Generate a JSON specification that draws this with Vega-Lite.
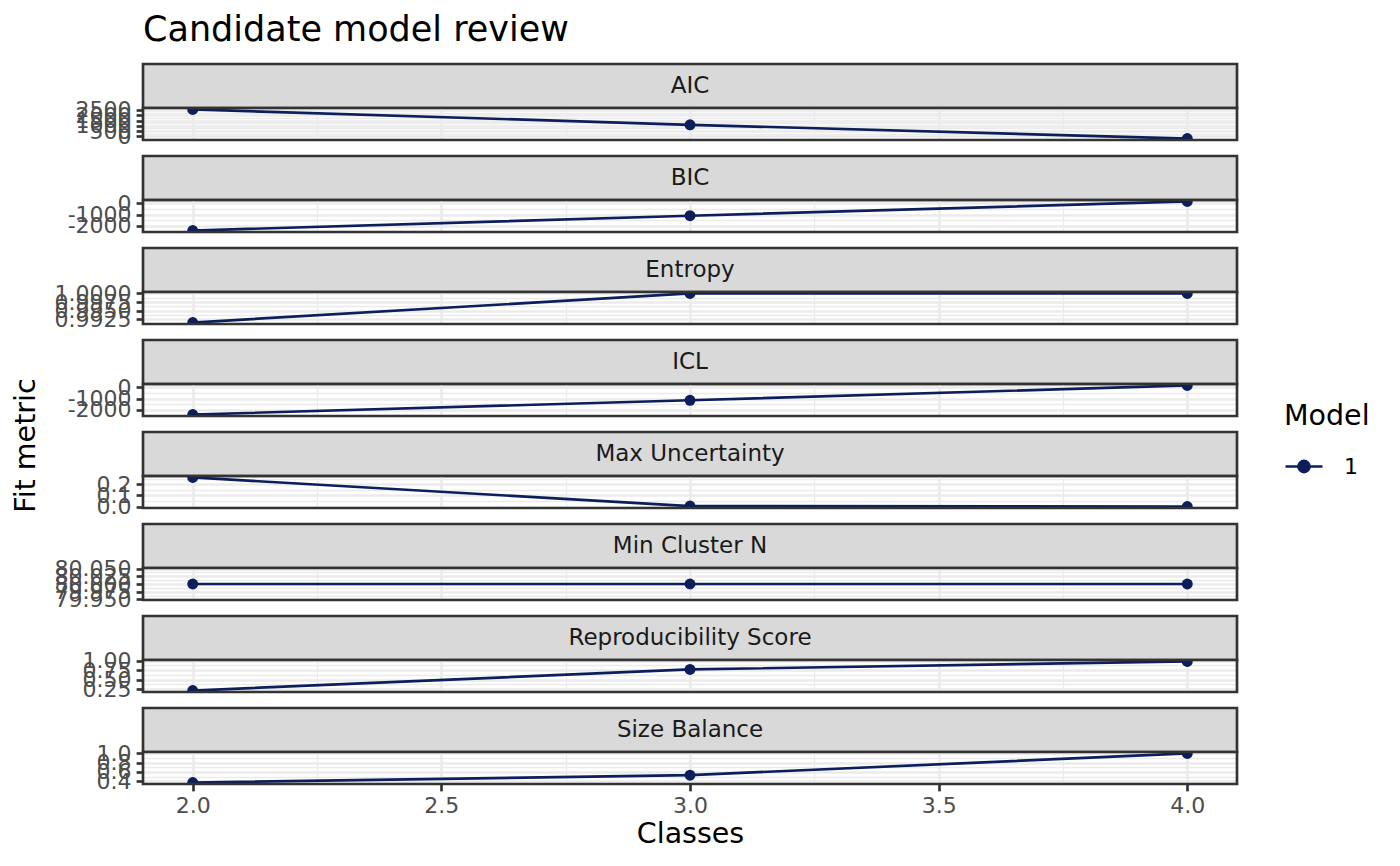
{
  "$schema": "https://vega.github.io/schema/vega-lite/v6.json",
  "padding": {"left": 11, "top": 12, "right": 10, "bottom": 5},
  "title": {"text": "Candidate model review", "anchor": "start", "frame": "group", "fontSize": 35, "font": "DejaVu Sans", "fontWeight": "normal", "color": "#000000", "offset": 15},
  "datasets": {
    "panels": [
      {"metric": "AIC"}, {"metric": "BIC"}, {"metric": "Entropy"}, {"metric": "ICL"},
      {"metric": "Max Uncertainty"}, {"metric": "Min Cluster N"}, {"metric": "Reproducibility Score"}, {"metric": "Size Balance"}
    ],
    "frame": [{"panel": "border"}],
    "fit": [
      {"metric": "AIC", "classes": 2, "value": 2550, "model": "1"},
      {"metric": "AIC", "classes": 3, "value": 1100, "model": "1"},
      {"metric": "AIC", "classes": 4, "value": -200, "model": "1"},
      {"metric": "BIC", "classes": 2, "value": -2400, "model": "1"},
      {"metric": "BIC", "classes": 3, "value": -1100, "model": "1"},
      {"metric": "BIC", "classes": 4, "value": 150, "model": "1"},
      {"metric": "Entropy", "classes": 2, "value": 0.9915, "model": "1"},
      {"metric": "Entropy", "classes": 3, "value": 1.0, "model": "1"},
      {"metric": "Entropy", "classes": 4, "value": 1.0, "model": "1"},
      {"metric": "ICL", "classes": 2, "value": -2400, "model": "1"},
      {"metric": "ICL", "classes": 3, "value": -1150, "model": "1"},
      {"metric": "ICL", "classes": 4, "value": 150, "model": "1"},
      {"metric": "Max Uncertainty", "classes": 2, "value": 0.26, "model": "1"},
      {"metric": "Max Uncertainty", "classes": 3, "value": 0.004, "model": "1"},
      {"metric": "Max Uncertainty", "classes": 4, "value": 0.0, "model": "1"},
      {"metric": "Min Cluster N", "classes": 2, "value": 80, "model": "1"},
      {"metric": "Min Cluster N", "classes": 3, "value": 80, "model": "1"},
      {"metric": "Min Cluster N", "classes": 4, "value": 80, "model": "1"},
      {"metric": "Reproducibility Score", "classes": 2, "value": 0.215, "model": "1"},
      {"metric": "Reproducibility Score", "classes": 3, "value": 0.77, "model": "1"},
      {"metric": "Reproducibility Score", "classes": 4, "value": 0.98, "model": "1"},
      {"metric": "Size Balance", "classes": 2, "value": 0.37, "model": "1"},
      {"metric": "Size Balance", "classes": 3, "value": 0.53, "model": "1"},
      {"metric": "Size Balance", "classes": 4, "value": 1.0, "model": "1"}
    ]
  },
  "spacing": 0,
  "bounds": "flush",
  "vconcat": [
    {"width": 1094, "height": 44, "data": {"name": "panels"}, "transform": [{"filter": "datum.metric === 'AIC'"}],
     "mark": {"type": "text", "fontSize": 23, "font": "DejaVu Sans", "color": "#1A1A1A"},
     "encoding": {"text": {"field": "metric", "type": "nominal"}}, "view": {"fill": "#D9D9D9", "stroke": "#333333", "strokeWidth": 2.67}},
    {"width": 1094, "height": 32, "view": {"stroke": null},
     "resolve": {"scale": {"x": "independent", "y": "independent"}},
     "layer": [
       {"data": {"name": "fit"}, "transform": [{"filter": "datum.metric === 'AIC'"}],
        "encoding": {
          "x": {"field": "classes", "type": "quantitative", "scale": {"domain": [1.9, 4.1], "nice": false, "zero": false},
                "axis": {"values": [2, 2.25, 2.5, 2.75, 3, 3.25, 3.5, 3.75, 4], "labels": false, "ticks": false, "title": null,
                         "gridWidth": {"condition": {"test": "indexof([2,2.5,3,3.5,4], datum.value) >= 0", "value": 2.67}, "value": 1.33}}},
          "y": {"field": "value", "type": "quantitative", "scale": {"domain": [-337.5, 2687.5], "nice": false, "zero": false},
                "axis": {"title": null, "values": [-250, 0, 250, 500, 750, 1000, 1250, 1500, 1750, 2000, 2250, 2500],
                         "labelExpr": "indexof([0,500,1000,1500,2000,2500], datum.value) >= 0 ? '' + datum.value : ''",
                         "tickOpacity": {"condition": {"test": "indexof([0,500,1000,1500,2000,2500], datum.value) >= 0", "value": 1}, "value": 0},
                         "gridWidth": {"condition": {"test": "indexof([0,500,1000,1500,2000,2500], datum.value) >= 0", "value": 2.67}, "value": 1.33}}}
        },
        "layer": [
          {"mark": {"type": "line", "strokeWidth": 2.67, "clip": true},
           "encoding": {"color": {"field": "model", "type": "nominal", "scale": {"range": ["#0C1E5B"]},
             "legend": {"title": "Model", "orient": "none", "legendX": 1141, "legendY": 338,
               "encode": {"symbols": {"update": {"fill": {"value": "#0C1E5B"}, "stroke": {"value": "#0C1E5B"}, "strokeWidth": {"value": 2.67}, "opacity": {"value": 1}}}}}}}},
          {"mark": {"type": "point", "filled": true, "size": 120, "opacity": 1, "clip": true, "color": "#0C1E5B"}}
        ]},
       {"data": {"name": "frame"}, "mark": {"type": "rect", "fillOpacity": 0, "stroke": "#333333", "strokeWidth": 2.67}, "encoding": {}}
     ]},
    {"width": 1094, "height": 16, "data": {"values": []}, "mark": {"type": "point", "opacity": 0}, "view": {"stroke": null}},

    {"width": 1094, "height": 44, "data": {"name": "panels"}, "transform": [{"filter": "datum.metric === 'BIC'"}],
     "mark": {"type": "text", "fontSize": 23, "font": "DejaVu Sans", "color": "#1A1A1A"},
     "encoding": {"text": {"field": "metric", "type": "nominal"}}, "view": {"fill": "#D9D9D9", "stroke": "#333333", "strokeWidth": 2.67}},
    {"width": 1094, "height": 32, "view": {"stroke": null},
     "resolve": {"scale": {"x": "independent", "y": "independent"}},
     "layer": [
       {"data": {"name": "fit"}, "transform": [{"filter": "datum.metric === 'BIC'"}],
        "encoding": {
          "x": {"field": "classes", "type": "quantitative", "scale": {"domain": [1.9, 4.1], "nice": false, "zero": false},
                "axis": {"values": [2, 2.25, 2.5, 2.75, 3, 3.25, 3.5, 3.75, 4], "labels": false, "ticks": false, "title": null,
                         "gridWidth": {"condition": {"test": "indexof([2,2.5,3,3.5,4], datum.value) >= 0", "value": 2.67}, "value": 1.33}}},
          "y": {"field": "value", "type": "quantitative", "scale": {"domain": [-2527.5, 277.5], "nice": false, "zero": false},
                "axis": {"title": null, "values": [-2500, -2000, -1500, -1000, -500, 0],
                         "labelExpr": "indexof([-2000,-1000,0], datum.value) >= 0 ? '' + datum.value : ''",
                         "tickOpacity": {"condition": {"test": "indexof([-2000,-1000,0], datum.value) >= 0", "value": 1}, "value": 0},
                         "gridWidth": {"condition": {"test": "indexof([-2000,-1000,0], datum.value) >= 0", "value": 2.67}, "value": 1.33}}}
        },
        "layer": [
          {"mark": {"type": "line", "strokeWidth": 2.67, "clip": true},
           "encoding": {"color": {"field": "model", "type": "nominal", "scale": {"range": ["#0C1E5B"]},
             "legend": {"title": "Model", "orient": "none", "legendX": 1141, "legendY": 338,
               "encode": {"symbols": {"update": {"fill": {"value": "#0C1E5B"}, "stroke": {"value": "#0C1E5B"}, "strokeWidth": {"value": 2.67}, "opacity": {"value": 1}}}}}}}},
          {"mark": {"type": "point", "filled": true, "size": 120, "opacity": 1, "clip": true, "color": "#0C1E5B"}}
        ]},
       {"data": {"name": "frame"}, "mark": {"type": "rect", "fillOpacity": 0, "stroke": "#333333", "strokeWidth": 2.67}, "encoding": {}}
     ]},
    {"width": 1094, "height": 16, "data": {"values": []}, "mark": {"type": "point", "opacity": 0}, "view": {"stroke": null}},

    {"width": 1094, "height": 44, "data": {"name": "panels"}, "transform": [{"filter": "datum.metric === 'Entropy'"}],
     "mark": {"type": "text", "fontSize": 23, "font": "DejaVu Sans", "color": "#1A1A1A"},
     "encoding": {"text": {"field": "metric", "type": "nominal"}}, "view": {"fill": "#D9D9D9", "stroke": "#333333", "strokeWidth": 2.67}},
    {"width": 1094, "height": 32, "view": {"stroke": null},
     "resolve": {"scale": {"x": "independent", "y": "independent"}},
     "layer": [
       {"data": {"name": "fit"}, "transform": [{"filter": "datum.metric === 'Entropy'"}],
        "encoding": {
          "x": {"field": "classes", "type": "quantitative", "scale": {"domain": [1.9, 4.1], "nice": false, "zero": false},
                "axis": {"values": [2, 2.25, 2.5, 2.75, 3, 3.25, 3.5, 3.75, 4], "labels": false, "ticks": false, "title": null,
                         "gridWidth": {"condition": {"test": "indexof([2,2.5,3,3.5,4], datum.value) >= 0", "value": 2.67}, "value": 1.33}}},
          "y": {"field": "value", "type": "quantitative", "scale": {"domain": [0.991075, 1.000425], "nice": false, "zero": false},
                "axis": {"title": null, "values": [0.99125, 0.9925, 0.99375, 0.995, 0.99625, 0.9975, 0.99875, 1.0],
                         "labelExpr": "indexof([0.9925,0.995,0.9975,1.0], datum.value) >= 0 ? format(datum.value, '.4f') : ''",
                         "tickOpacity": {"condition": {"test": "indexof([0.9925,0.995,0.9975,1.0], datum.value) >= 0", "value": 1}, "value": 0},
                         "gridWidth": {"condition": {"test": "indexof([0.9925,0.995,0.9975,1.0], datum.value) >= 0", "value": 2.67}, "value": 1.33}}}
        },
        "layer": [
          {"mark": {"type": "line", "strokeWidth": 2.67, "clip": true},
           "encoding": {"color": {"field": "model", "type": "nominal", "scale": {"range": ["#0C1E5B"]},
             "legend": {"title": "Model", "orient": "none", "legendX": 1141, "legendY": 338,
               "encode": {"symbols": {"update": {"fill": {"value": "#0C1E5B"}, "stroke": {"value": "#0C1E5B"}, "strokeWidth": {"value": 2.67}, "opacity": {"value": 1}}}}}}}},
          {"mark": {"type": "point", "filled": true, "size": 120, "opacity": 1, "clip": true, "color": "#0C1E5B"}}
        ]},
       {"data": {"name": "frame"}, "mark": {"type": "rect", "fillOpacity": 0, "stroke": "#333333", "strokeWidth": 2.67}, "encoding": {}}
     ]},
    {"width": 1094, "height": 16, "data": {"values": []}, "mark": {"type": "point", "opacity": 0}, "view": {"stroke": null}},

    {"width": 1094, "height": 44, "data": {"name": "panels"}, "transform": [{"filter": "datum.metric === 'ICL'"}],
     "mark": {"type": "text", "fontSize": 23, "font": "DejaVu Sans", "color": "#1A1A1A"},
     "encoding": {"text": {"field": "metric", "type": "nominal"}}, "view": {"fill": "#D9D9D9", "stroke": "#333333", "strokeWidth": 2.67}},
    {"width": 1094, "height": 32, "view": {"stroke": null},
     "resolve": {"scale": {"x": "independent", "y": "independent"}},
     "layer": [
       {"data": {"name": "fit"}, "transform": [{"filter": "datum.metric === 'ICL'"}],
        "encoding": {
          "x": {"field": "classes", "type": "quantitative", "scale": {"domain": [1.9, 4.1], "nice": false, "zero": false},
                "axis": {"values": [2, 2.25, 2.5, 2.75, 3, 3.25, 3.5, 3.75, 4], "labels": false, "ticks": false, "title": null,
                         "gridWidth": {"condition": {"test": "indexof([2,2.5,3,3.5,4], datum.value) >= 0", "value": 2.67}, "value": 1.33}}},
          "y": {"field": "value", "type": "quantitative", "scale": {"domain": [-2527.5, 277.5], "nice": false, "zero": false},
                "axis": {"title": null, "values": [-2500, -2000, -1500, -1000, -500, 0],
                         "labelExpr": "indexof([-2000,-1000,0], datum.value) >= 0 ? '' + datum.value : ''",
                         "tickOpacity": {"condition": {"test": "indexof([-2000,-1000,0], datum.value) >= 0", "value": 1}, "value": 0},
                         "gridWidth": {"condition": {"test": "indexof([-2000,-1000,0], datum.value) >= 0", "value": 2.67}, "value": 1.33}}}
        },
        "layer": [
          {"mark": {"type": "line", "strokeWidth": 2.67, "clip": true},
           "encoding": {"color": {"field": "model", "type": "nominal", "scale": {"range": ["#0C1E5B"]},
             "legend": {"title": "Model", "orient": "none", "legendX": 1141, "legendY": 338,
               "encode": {"symbols": {"update": {"fill": {"value": "#0C1E5B"}, "stroke": {"value": "#0C1E5B"}, "strokeWidth": {"value": 2.67}, "opacity": {"value": 1}}}}}}}},
          {"mark": {"type": "point", "filled": true, "size": 120, "opacity": 1, "clip": true, "color": "#0C1E5B"}}
        ]},
       {"data": {"name": "frame"}, "mark": {"type": "rect", "fillOpacity": 0, "stroke": "#333333", "strokeWidth": 2.67}, "encoding": {}}
     ]},
    {"width": 1094, "height": 16, "data": {"values": []}, "mark": {"type": "point", "opacity": 0}, "view": {"stroke": null}},

    {"width": 1094, "height": 44, "data": {"name": "panels"}, "transform": [{"filter": "datum.metric === 'Max Uncertainty'"}],
     "mark": {"type": "text", "fontSize": 23, "font": "DejaVu Sans", "color": "#1A1A1A"},
     "encoding": {"text": {"field": "metric", "type": "nominal"}}, "view": {"fill": "#D9D9D9", "stroke": "#333333", "strokeWidth": 2.67}},
    {"width": 1094, "height": 32, "view": {"stroke": null},
     "resolve": {"scale": {"x": "independent", "y": "independent"}},
     "layer": [
       {"data": {"name": "fit"}, "transform": [{"filter": "datum.metric === 'Max Uncertainty'"}],
        "encoding": {
          "x": {"field": "classes", "type": "quantitative", "scale": {"domain": [1.9, 4.1], "nice": false, "zero": false},
                "axis": {"values": [2, 2.25, 2.5, 2.75, 3, 3.25, 3.5, 3.75, 4], "labels": false, "ticks": false, "title": null,
                         "gridWidth": {"condition": {"test": "indexof([2,2.5,3,3.5,4], datum.value) >= 0", "value": 2.67}, "value": 1.33}}},
          "y": {"field": "value", "type": "quantitative", "scale": {"domain": [-0.013, 0.273], "nice": false, "zero": false},
                "axis": {"title": "Fit metric", "titleX": -109, "titleY": -31, "titleAngle": 270, "titleBaseline": "alphabetic", "titleAlign": "center",
                         "values": [0, 0.05, 0.1, 0.15, 0.2, 0.25],
                         "labelExpr": "indexof([0,0.1,0.2], datum.value) >= 0 ? format(datum.value, '.1f') : ''",
                         "tickOpacity": {"condition": {"test": "indexof([0,0.1,0.2], datum.value) >= 0", "value": 1}, "value": 0},
                         "gridWidth": {"condition": {"test": "indexof([0,0.1,0.2], datum.value) >= 0", "value": 2.67}, "value": 1.33}}}
        },
        "layer": [
          {"mark": {"type": "line", "strokeWidth": 2.67, "clip": true},
           "encoding": {"color": {"field": "model", "type": "nominal", "scale": {"range": ["#0C1E5B"]},
             "legend": {"title": "Model", "orient": "none", "legendX": 1141, "legendY": 338,
               "encode": {"symbols": {"update": {"fill": {"value": "#0C1E5B"}, "stroke": {"value": "#0C1E5B"}, "strokeWidth": {"value": 2.67}, "opacity": {"value": 1}}}}}}}},
          {"mark": {"type": "point", "filled": true, "size": 120, "opacity": 1, "clip": true, "color": "#0C1E5B"}}
        ]},
       {"data": {"name": "frame"}, "mark": {"type": "rect", "fillOpacity": 0, "stroke": "#333333", "strokeWidth": 2.67}, "encoding": {}}
     ]},
    {"width": 1094, "height": 16, "data": {"values": []}, "mark": {"type": "point", "opacity": 0}, "view": {"stroke": null}},

    {"width": 1094, "height": 44, "data": {"name": "panels"}, "transform": [{"filter": "datum.metric === 'Min Cluster N'"}],
     "mark": {"type": "text", "fontSize": 23, "font": "DejaVu Sans", "color": "#1A1A1A"},
     "encoding": {"text": {"field": "metric", "type": "nominal"}}, "view": {"fill": "#D9D9D9", "stroke": "#333333", "strokeWidth": 2.67}},
    {"width": 1094, "height": 32, "view": {"stroke": null},
     "resolve": {"scale": {"x": "independent", "y": "independent"}},
     "layer": [
       {"data": {"name": "fit"}, "transform": [{"filter": "datum.metric === 'Min Cluster N'"}],
        "encoding": {
          "x": {"field": "classes", "type": "quantitative", "scale": {"domain": [1.9, 4.1], "nice": false, "zero": false},
                "axis": {"values": [2, 2.25, 2.5, 2.75, 3, 3.25, 3.5, 3.75, 4], "labels": false, "ticks": false, "title": null,
                         "gridWidth": {"condition": {"test": "indexof([2,2.5,3,3.5,4], datum.value) >= 0", "value": 2.67}, "value": 1.33}}},
          "y": {"field": "value", "type": "quantitative", "scale": {"domain": [79.948, 80.052], "nice": false, "zero": false},
                "axis": {"title": null, "values": [79.95, 79.9625, 79.975, 79.9875, 80, 80.0125, 80.025, 80.0375, 80.05],
                         "labelExpr": "indexof([79.95,79.975,80,80.025,80.05], datum.value) >= 0 ? format(datum.value, '.3f') : ''",
                         "tickOpacity": {"condition": {"test": "indexof([79.95,79.975,80,80.025,80.05], datum.value) >= 0", "value": 1}, "value": 0},
                         "gridWidth": {"condition": {"test": "indexof([79.95,79.975,80,80.025,80.05], datum.value) >= 0", "value": 2.67}, "value": 1.33}}}
        },
        "layer": [
          {"mark": {"type": "line", "strokeWidth": 2.67, "clip": true},
           "encoding": {"color": {"field": "model", "type": "nominal", "scale": {"range": ["#0C1E5B"]},
             "legend": {"title": "Model", "orient": "none", "legendX": 1141, "legendY": 338,
               "encode": {"symbols": {"update": {"fill": {"value": "#0C1E5B"}, "stroke": {"value": "#0C1E5B"}, "strokeWidth": {"value": 2.67}, "opacity": {"value": 1}}}}}}}},
          {"mark": {"type": "point", "filled": true, "size": 120, "opacity": 1, "clip": true, "color": "#0C1E5B"}}
        ]},
       {"data": {"name": "frame"}, "mark": {"type": "rect", "fillOpacity": 0, "stroke": "#333333", "strokeWidth": 2.67}, "encoding": {}}
     ]},
    {"width": 1094, "height": 16, "data": {"values": []}, "mark": {"type": "point", "opacity": 0}, "view": {"stroke": null}},

    {"width": 1094, "height": 44, "data": {"name": "panels"}, "transform": [{"filter": "datum.metric === 'Reproducibility Score'"}],
     "mark": {"type": "text", "fontSize": 23, "font": "DejaVu Sans", "color": "#1A1A1A"},
     "encoding": {"text": {"field": "metric", "type": "nominal"}}, "view": {"fill": "#D9D9D9", "stroke": "#333333", "strokeWidth": 2.67}},
    {"width": 1094, "height": 32, "view": {"stroke": null},
     "resolve": {"scale": {"x": "independent", "y": "independent"}},
     "layer": [
       {"data": {"name": "fit"}, "transform": [{"filter": "datum.metric === 'Reproducibility Score'"}],
        "encoding": {
          "x": {"field": "classes", "type": "quantitative", "scale": {"domain": [1.9, 4.1], "nice": false, "zero": false},
                "axis": {"values": [2, 2.25, 2.5, 2.75, 3, 3.25, 3.5, 3.75, 4], "labels": false, "ticks": false, "title": null,
                         "gridWidth": {"condition": {"test": "indexof([2,2.5,3,3.5,4], datum.value) >= 0", "value": 2.67}, "value": 1.33}}},
          "y": {"field": "value", "type": "quantitative", "scale": {"domain": [0.17675, 1.01825], "nice": false, "zero": false},
                "axis": {"title": null, "values": [0.25, 0.375, 0.5, 0.625, 0.75, 0.875, 1.0],
                         "labelExpr": "indexof([0.25,0.5,0.75,1.0], datum.value) >= 0 ? format(datum.value, '.2f') : ''",
                         "tickOpacity": {"condition": {"test": "indexof([0.25,0.5,0.75,1.0], datum.value) >= 0", "value": 1}, "value": 0},
                         "gridWidth": {"condition": {"test": "indexof([0.25,0.5,0.75,1.0], datum.value) >= 0", "value": 2.67}, "value": 1.33}}}
        },
        "layer": [
          {"mark": {"type": "line", "strokeWidth": 2.67, "clip": true},
           "encoding": {"color": {"field": "model", "type": "nominal", "scale": {"range": ["#0C1E5B"]},
             "legend": {"title": "Model", "orient": "none", "legendX": 1141, "legendY": 338,
               "encode": {"symbols": {"update": {"fill": {"value": "#0C1E5B"}, "stroke": {"value": "#0C1E5B"}, "strokeWidth": {"value": 2.67}, "opacity": {"value": 1}}}}}}}},
          {"mark": {"type": "point", "filled": true, "size": 120, "opacity": 1, "clip": true, "color": "#0C1E5B"}}
        ]},
       {"data": {"name": "frame"}, "mark": {"type": "rect", "fillOpacity": 0, "stroke": "#333333", "strokeWidth": 2.67}, "encoding": {}}
     ]},
    {"width": 1094, "height": 16, "data": {"values": []}, "mark": {"type": "point", "opacity": 0}, "view": {"stroke": null}},

    {"width": 1094, "height": 44, "data": {"name": "panels"}, "transform": [{"filter": "datum.metric === 'Size Balance'"}],
     "mark": {"type": "text", "fontSize": 23, "font": "DejaVu Sans", "color": "#1A1A1A"},
     "encoding": {"text": {"field": "metric", "type": "nominal"}}, "view": {"fill": "#D9D9D9", "stroke": "#333333", "strokeWidth": 2.67}},
    {"width": 1094, "height": 32, "view": {"stroke": null},
     "resolve": {"scale": {"x": "independent", "y": "independent"}},
     "layer": [
       {"data": {"name": "fit"}, "transform": [{"filter": "datum.metric === 'Size Balance'"}],
        "encoding": {
          "x": {"field": "classes", "type": "quantitative", "scale": {"domain": [1.9, 4.1], "nice": false, "zero": false},
                "axis": {"values": [2, 2.25, 2.5, 2.75, 3, 3.25, 3.5, 3.75, 4], "title": "Classes",
                         "labelExpr": "indexof([2,2.5,3,3.5,4], datum.value) >= 0 ? format(datum.value, '.1f') : ''",
                         "tickOpacity": {"condition": {"test": "indexof([2,2.5,3,3.5,4], datum.value) >= 0", "value": 1}, "value": 0},
                         "gridWidth": {"condition": {"test": "indexof([2,2.5,3,3.5,4], datum.value) >= 0", "value": 2.67}, "value": 1.33}}},
          "y": {"field": "value", "type": "quantitative", "scale": {"domain": [0.3385, 1.0315], "nice": false, "zero": false},
                "axis": {"title": null, "values": [0.4, 0.5, 0.6, 0.7, 0.8, 0.9, 1.0],
                         "labelExpr": "indexof([0.4,0.6,0.8,1.0], datum.value) >= 0 ? format(datum.value, '.1f') : ''",
                         "tickOpacity": {"condition": {"test": "indexof([0.4,0.6,0.8,1.0], datum.value) >= 0", "value": 1}, "value": 0},
                         "gridWidth": {"condition": {"test": "indexof([0.4,0.6,0.8,1.0], datum.value) >= 0", "value": 2.67}, "value": 1.33}}}
        },
        "layer": [
          {"mark": {"type": "line", "strokeWidth": 2.67, "clip": true},
           "encoding": {"color": {"field": "model", "type": "nominal", "scale": {"range": ["#0C1E5B"]},
             "legend": {"title": "Model", "orient": "none", "legendX": 1141, "legendY": 338,
               "encode": {"symbols": {"update": {"fill": {"value": "#0C1E5B"}, "stroke": {"value": "#0C1E5B"}, "strokeWidth": {"value": 2.67}, "opacity": {"value": 1}}}}}}}},
          {"mark": {"type": "point", "filled": true, "size": 120, "opacity": 1, "clip": true, "color": "#0C1E5B"}}
        ]},
       {"data": {"name": "frame"}, "mark": {"type": "rect", "fillOpacity": 0, "stroke": "#333333", "strokeWidth": 2.67}, "encoding": {}}
     ]}
  ],
  "config": {
    "font": "DejaVu Sans",
    "view": {"stroke": "#333333", "strokeWidth": 2.67},
    "axis": {"domain": false, "grid": true, "gridColor": "#EBEBEB", "tickColor": "#333333", "tickWidth": 2.67, "tickSize": 6.9,
             "labelFont": "DejaVu Sans", "labelFontSize": 22, "labelColor": "#4D4D4D", "labelPadding": 5,
             "labelOverlap": false, "labelFlush": false, "labelBound": false,
             "titleFont": "DejaVu Sans", "titleFontSize": 28.5, "titleFontWeight": "normal", "titleColor": "#000000"},
    "axisX": {"titlePadding": 3},
    "legend": {"padding": 0, "titleFont": "DejaVu Sans", "titleFontSize": 28.5, "titleFontWeight": "normal", "titleColor": "#000000", "titlePadding": 16,
               "labelFont": "DejaVu Sans", "labelFontSize": 22, "labelColor": "#000000", "labelOffset": 20,
               "symbolType": "M-1,0L1,0M-0.3,0A0.3,0.3,0,1,1,0.3,0A0.3,0.3,0,1,1,-0.3,0", "symbolSize": 1369, "symbolStrokeWidth": 2.67}
  }
}
